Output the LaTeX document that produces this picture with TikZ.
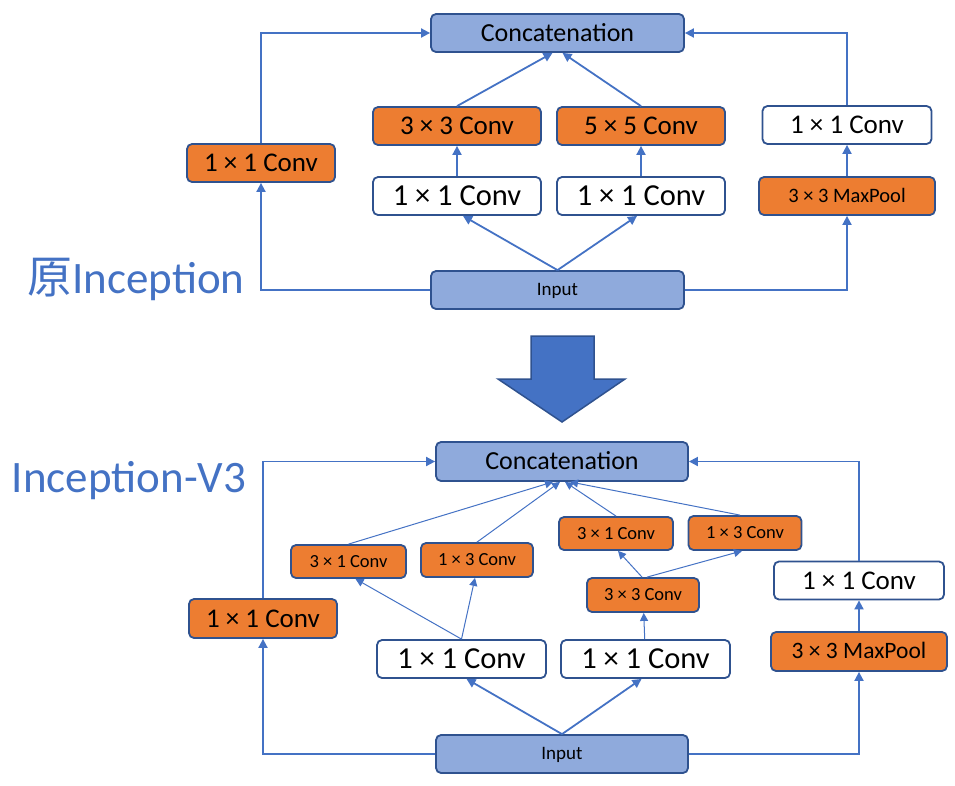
\documentclass[tikz,border=0pt]{standalone}
\usepackage{fontspec}
\setmainfont{Carlito}
\newfontfamily\cjkfont{Noto Sans CJK SC}
\usepackage{tikz}
\usetikzlibrary{arrows.meta, calc}
\definecolor{boxblue}{HTML}{8FAADC}
\definecolor{boxedge}{HTML}{2F528F}
\definecolor{convorange}{HTML}{ED7D31}
\definecolor{linkblue}{HTML}{4472C4}
\tikzset{>={Triangle[length=9pt,width=9pt]}}
\tikzset{
  fs/.style={font=\fontsize{#1}{#1}\selectfont},
  lbl/.style={fs=#1, text height=0.72*#1pt, text depth=0.09*#1pt},
  boxsize/.style 2 args={minimum width=#1pt, minimum height=#2pt},
  block/.style={draw=boxedge, line width=1.8pt, rounded corners=5pt, inner sep=0pt, text=black},
  bluebox/.style={block, fill=boxblue, boxsize={253}{38}},
  orangebox/.style={block, fill=convorange},
  whitebox/.style={block, fill=white},
  link/.style={->, color=linkblue, line width=1.8pt},
  thinlink/.style={->, color=linkblue, line width=1pt, >={Triangle[length=8pt,width=8pt]}},
  title/.style={text=linkblue, fs=45},
}

\begin{document}
\begin{tikzpicture}[x=1pt, y=-1pt]
    \useasboundingbox (0,0) rectangle (955,785);

    % original inception
    \node[title] (titleA) at (136,279) {{\cjkfont 原}Inception};
    \node[bluebox, lbl=26] (concatA) at (557.5,33) {Concatenation};
    \node[bluebox, lbl=19] (inputA) at (557.5,290) {Input};
    \node[orangebox, boxsize={148}{38}, lbl=27] (convA) at (261,163) {1 × 1 Conv};
    \node[orangebox, boxsize={168}{38}, lbl=27] (threeA) at (457,126) {3 × 3 Conv};
    \node[orangebox, boxsize={168}{38}, lbl=27] (fiveA) at (641,126) {5 × 5 Conv};
    \node[whitebox, boxsize={168}{38}, lbl=30.5] (redlA) at (457,196) {1 × 1 Conv};
    \node[whitebox, boxsize={168}{38}, lbl=30.5] (redrA) at (641,196) {1 × 1 Conv};
    \node[whitebox, boxsize={169}{38}, lbl=27] (projA) at (847,125) {1 × 1 Conv};
    \node[orangebox, boxsize={176}{38}, lbl=20.5] (poolA) at (847,196) {3 × 3 MaxPool};

    \path [link]
    (inputA.north) edge ([xshift=6pt]redlA.south)
    (inputA.north) edge ([xshift=-4pt]redrA.south)
    (redlA) edge (threeA)
    (redrA) edge (fiveA)
    (threeA.north) edge ([xshift=-5pt]concatA.south)
    (fiveA.north) edge ([xshift=5pt]concatA.south)
    (poolA) edge (projA);
    \draw[link] (inputA.west) -| (convA.south);
    \draw[link] (convA.north) |- (concatA.west);
    \draw[link] (inputA.east) -| (poolA.south);
    \draw[link] (projA.north) |- (concatA.east);

    % down arrow
    \draw[fill=linkblue, draw=boxedge, line width=1.5pt]
    (531,336) -- (594,336) -- (594,379) -- (625,379) -- (562,422)
    -- (498,379) -- (531,379) -- cycle;

    % inception-v3
    \node[title] (titleB) at (129,481) {Inception-V3};
    \node[bluebox, lbl=26, boxsize={252}{39}] (concatB) at (562,461.5) {Concatenation};
    \node[bluebox, lbl=19, boxsize={252}{38}] (inputB) at (562,754) {Input};
    \node[orangebox, boxsize={148}{39}, lbl=27] (convB) at (263,618.5) {1 × 1 Conv};
    \node[whitebox, boxsize={169}{38}, lbl=30.5] (redlB) at (461.5,659) {1 × 1 Conv};
    \node[whitebox, boxsize={169}{38}, lbl=30.5] (redrB) at (645.5,659) {1 × 1 Conv};
    \node[orangebox, boxsize={115}{33}, lbl=18.5] (colB) at (348.5,561.5) {3 × 1 Conv};
    \node[orangebox, boxsize={112}{34}, lbl=18.5] (rowB) at (477,560) {1 × 3 Conv};
    \node[orangebox, boxsize={112}{34}, lbl=18.5] (threeB) at (643,595) {3 × 3 Conv};
    \node[orangebox, boxsize={114}{33}, lbl=18.5] (colrB) at (616,533.5) {3 × 1 Conv};
    \node[orangebox, boxsize={113}{34}, lbl=18.5] (rowrB) at (745,533) {1 × 3 Conv};
    \node[whitebox, boxsize={170}{38}, lbl=27] (projB) at (859,580.5) {1 × 1 Conv};
    \node[orangebox, boxsize={176}{39}, lbl=23.5] (poolB) at (859,651.5) {3 × 3 MaxPool};

    \path [link]
    (inputB.north) edge ([xshift=5pt]redlB.south)
    (inputB.north) edge ([xshift=-4pt]redrB.south)
    (poolB) edge (projB);
    \path [thinlink]
    (redlB.north) edge ([xshift=7pt]colB.south)
    (redlB.north) edge ([xshift=-2pt]rowB.south)
    (colB.north) edge ([xshift=-9pt]concatB.south)
    (rowB.north) edge ([xshift=-2pt]concatB.south)
    (redrB) edge (threeB)
    ([xshift=-1pt]threeB.north) edge ([xshift=2pt]colrB.south)
    ([xshift=4pt]threeB.north) edge ([xshift=-3pt]rowrB.south)
    (colrB.north) edge ([xshift=3pt]concatB.south)
    ([xshift=-5pt]rowrB.north) edge ([xshift=8pt]concatB.south);
    \draw[link] (inputB.west) -| (convB.south);
    \draw[link] (convB.north) |- (concatB.west);
    \draw[link] (inputB.east) -| (poolB.south);
    \draw[link] (projB.north) |- (concatB.east);
\end{tikzpicture}
\end{document}
